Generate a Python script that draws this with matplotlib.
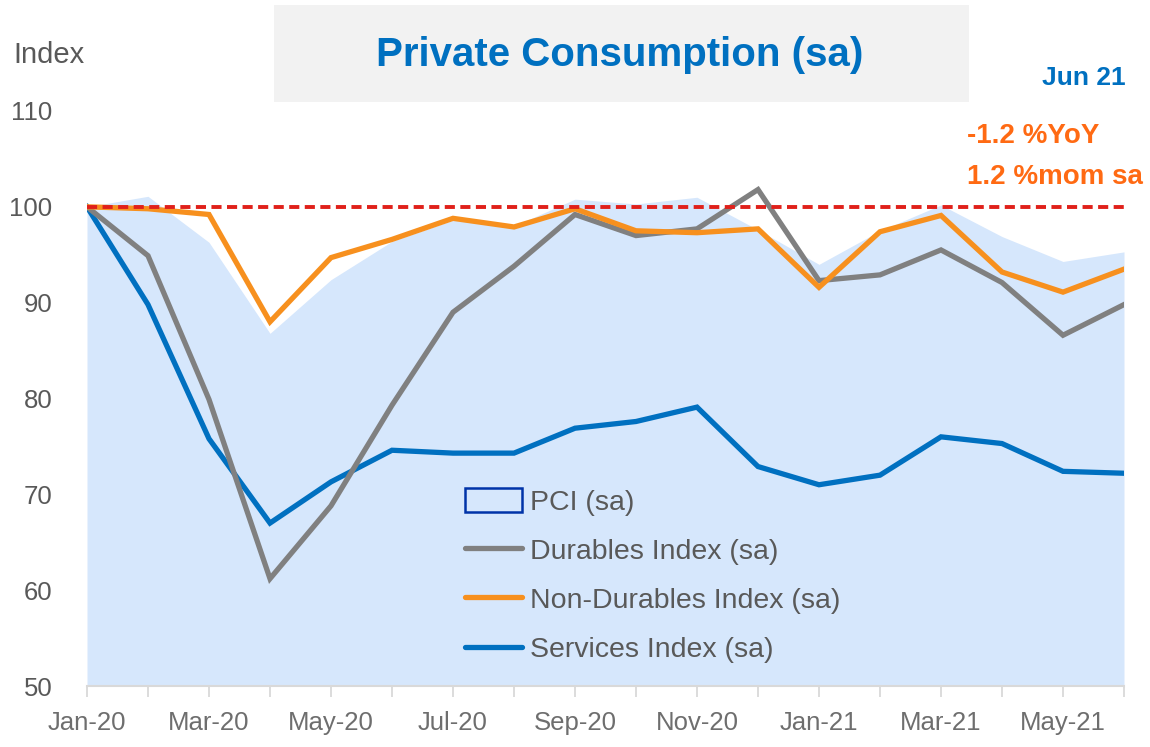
import numpy as np
import matplotlib.pyplot as plt
from matplotlib.patches import Rectangle, Patch
from matplotlib.lines import Line2D

plt.rcParams['font.family'] = ['Liberation Sans', 'DejaVu Sans']

# Monthly indices, Jan-2020 = 100 (seasonally adjusted)
months = ['Jan-20', 'Feb-20', 'Mar-20', 'Apr-20', 'May-20', 'Jun-20',
          'Jul-20', 'Aug-20', 'Sep-20', 'Oct-20', 'Nov-20', 'Dec-20',
          'Jan-21', 'Feb-21', 'Mar-21', 'Apr-21', 'May-21', 'Jun-21']
pci = [100.0, 101.1, 96.3, 86.8, 92.4, 96.4, 98.6, 98.0, 100.8, 100.3,
       101.0, 97.6, 94.0, 97.5, 100.2, 96.9, 94.3, 95.3]
durables = [100.0, 94.9, 79.9, 61.2, 68.8, 79.3, 89.0, 93.8, 99.2, 97.0,
            97.7, 101.8, 92.3, 92.9, 95.5, 92.1, 86.6, 89.8]
non_durables = [100.0, 99.8, 99.2, 88.0, 94.7, 96.6, 98.8, 97.9, 99.8, 97.5,
                97.3, 97.7, 91.6, 97.4, 99.1, 93.2, 91.1, 93.5]
services = [100.0, 89.8, 75.8, 67.0, 71.3, 74.6, 74.3, 74.3, 76.9, 77.6,
            79.1, 72.9, 71.0, 72.0, 76.0, 75.3, 72.4, 72.2]
base_level = 100
yoy = -1.2
mom = 1.2

TXT = '#595959'
BLUE = '#0070C0'
ORANGE = '#F7901E'
GREY = '#808080'
AREA = '#D6E7FC'

W, H = 1150, 747
fig = plt.figure(figsize=(W / 100, H / 100), dpi=100)
ax = fig.add_axes([87 / W, 1 - 686 / H, (1124 - 87) / W, (686 - 111) / H])

x = np.arange(len(months))
ax.fill_between(x, 50, pci, color=AREA, linewidth=0, zorder=1)
ax.plot(x, services, color=BLUE, lw=3.8, zorder=3, solid_joinstyle='miter')
ax.plot(x, durables, color=GREY, lw=3.8, zorder=4, solid_joinstyle='miter')
ax.plot(x, non_durables, color=ORANGE, lw=3.8, zorder=5, solid_joinstyle='miter')
ax.axhline(base_level, color='#E0201A', lw=2.8, dashes=(2.6, 1.4), zorder=6)

ax.set_xlim(0, len(months) - 1)
ax.set_ylim(50, 110)
ax.set_yticks(range(50, 111, 10))
ax.set_xticks(x)
ax.set_xticklabels([m if i % 2 == 0 else '' for i, m in enumerate(months)])

for s in ['top', 'right', 'left']:
    ax.spines[s].set_visible(False)
ax.spines['bottom'].set_color('#D9D9D9')
ax.spines['bottom'].set_linewidth(1.5)
ax.spines['bottom'].set_zorder(7)
ax.tick_params(axis='y', length=0, pad=25, labelsize=18.5, labelcolor=TXT)
ax.tick_params(axis='x', length=8, width=1.3, color='#D9D9D9', pad=10,
               labelsize=18.5, labelcolor='#6E6E6E')

# title box
fig.patches.append(Rectangle((274 / W, 1 - 102 / H), 695 / W, 97 / H,
                             transform=fig.transFigure, facecolor='#F2F2F2',
                             edgecolor='none', zorder=0))
fig.text(620 / W, 1 - 55 / H, 'Private Consumption (sa)', ha='center',
         va='center', fontsize=29, fontweight='bold', color=BLUE)
fig.text(13 / W, 1 - 55 / H, 'Index', ha='left', va='center', fontsize=21,
         color=TXT)
fig.text(1126 / W, 1 - 78 / H, 'Jun 21', ha='right', va='center', fontsize=19,
         fontweight='bold', color=BLUE)
fig.text(967 / W, 1 - 136 / H, f'{yoy:.1f} %YoY', ha='left', va='center',
         fontsize=20, fontweight='bold', color='#FF6A13')
fig.text(967 / W, 1 - 177 / H, f'{mom:.1f} %mom sa', ha='left', va='center',
         fontsize=20, fontweight='bold', color='#FF6A13')

handles = [Patch(facecolor=AREA, edgecolor='#0033A8', lw=1.8),
           Line2D([], [], color=GREY, lw=3.8, solid_capstyle='round'),
           Line2D([], [], color=ORANGE, lw=3.8, solid_capstyle='round'),
           Line2D([], [], color=BLUE, lw=3.8, solid_capstyle='round')]
labels = ['PCI (sa)', 'Durables Index (sa)', 'Non-Durables Index (sa)',
          'Services Index (sa)']
leg = ax.legend(handles, labels, loc='upper left',
                bbox_to_anchor=(465 / W, 1 - 488 / H),
                bbox_transform=fig.transFigure, frameon=False, fontsize=20.5,
                handlelength=2.0, handleheight=0.9, handletextpad=0.3,
                labelspacing=0.76, borderpad=0, borderaxespad=0)
for t in leg.get_texts():
    t.set_color(TXT)
leg.set_zorder(8)

fig.savefig('out.png', dpi=100)
